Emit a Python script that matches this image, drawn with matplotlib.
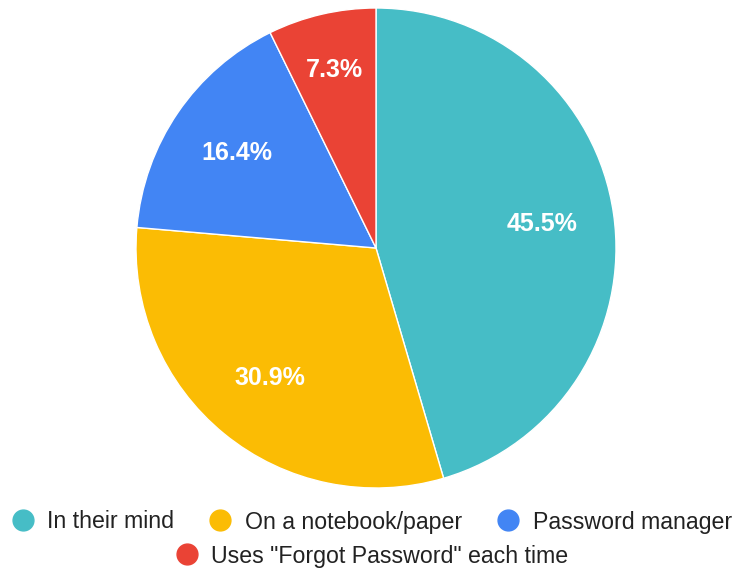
import matplotlib.pyplot as plt
from matplotlib.lines import Line2D

plt.rcParams['font.family'] = ['Liberation Sans', 'DejaVu Sans']

labels = ["In their mind", "On a notebook/paper", "Password manager",
          'Uses "Forgot Password" each time']
counts = [25, 17, 9, 4]
colors = ["#46BDC6", "#FBBC04", "#4285F4", "#EA4335"]

fig = plt.figure(figsize=(7.43, 5.72), dpi=100)
ax = fig.add_axes([136 / 743, 84 / 572, 480 / 743, 480 / 572])

wedges, _, autotexts = ax.pie(
    counts, colors=colors, startangle=90, counterclock=False, radius=1.0,
    autopct="%.1f%%", pctdistance=0.70,
    wedgeprops=dict(edgecolor="white", linewidth=1),
    textprops=dict(color="white", fontsize=18, fontweight="bold"),
)
# the thin slice gets its label pushed a bit further out
x, y = autotexts[3].get_position()
autotexts[3].set_position((x * 0.76 / 0.70, y * 0.76 / 0.70))

ax.set_xlim(-1, 1)
ax.set_ylim(-1, 1)
ax.set_aspect("equal")
ax.axis("off")

def handle(c):
    return Line2D([], [], marker="o", linestyle="none", markersize=15,
                  markerfacecolor=c, markeredgecolor=c)

leg_kw = dict(frameon=False, fontsize=16.7, handletextpad=0.55,
              columnspacing=1.5, borderpad=0, handlelength=1.0,
              labelcolor="#222222")
fig.legend([handle(c) for c in colors[:3]], labels[:3], ncol=3,
           loc="center", bbox_to_anchor=(0.5, 1 - 522 / 572), **leg_kw)
fig.legend([handle(colors[3])], labels[3:], ncol=1,
           loc="center", bbox_to_anchor=(0.5, 1 - 556 / 572), **leg_kw)

fig.savefig("out.png", dpi=100, facecolor="white")
